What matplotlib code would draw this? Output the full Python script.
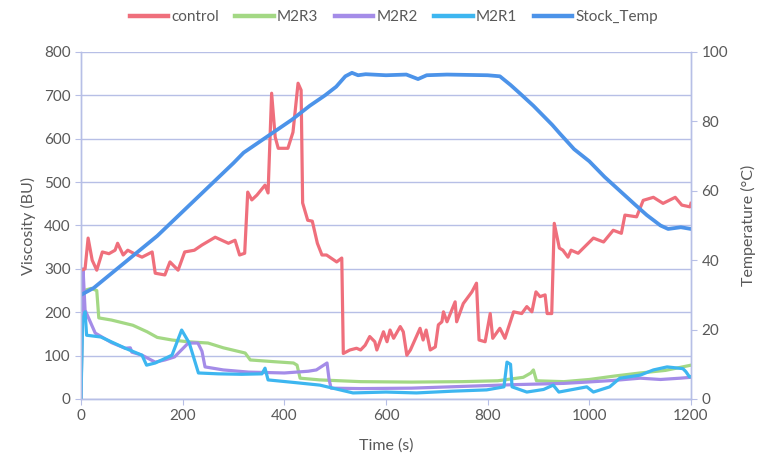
import matplotlib
matplotlib.use("Agg")
import matplotlib.pyplot as plt

# ---------------- data ----------------
control_t = [0, 8, 14, 22, 31, 42, 55, 67, 72, 83, 92, 105, 120, 140, 146, 165, 175, 191, 204, 223,
             238, 264, 290, 303, 312, 322, 328, 336, 346, 362, 368, 375, 382, 388, 407, 417, 427, 433,
             436, 446, 455, 465, 474, 483, 503, 513, 516, 529, 542, 550, 559, 568, 578, 582, 595, 602,
             608, 615, 628, 634, 641, 648, 667, 673, 679, 687, 697, 703, 710, 713, 720, 736, 739, 752,
             769, 778, 783, 795, 805, 810, 824, 834, 851, 867, 877, 887, 895, 903, 913, 917, 926,
             931, 941, 948, 958, 964, 978, 1008, 1028, 1047, 1063, 1070, 1093, 1106, 1126, 1145,
             1169, 1182, 1198, 1200]
control_v = [297, 300, 371, 320, 297, 339, 335, 343, 359, 332, 343, 335, 327, 339, 290, 286, 316, 297, 339, 343,
             355, 373, 359, 366, 332, 336, 477, 459, 470, 493, 475, 705, 604, 578, 578, 615, 728, 712,
             452, 412, 410, 359, 332, 332, 316, 325, 105, 113, 117, 113, 124, 144, 132, 113, 155, 132,
             159, 140, 167, 155, 101, 113, 163, 136, 159, 113, 120, 171, 178, 201, 178, 224, 178, 220,
             247, 267, 136, 132, 197, 140, 163, 140, 201, 197, 213, 201, 247, 236, 240, 197, 197,
             405, 348, 343, 327, 343, 336, 371, 362, 389, 382, 424, 420, 458, 465, 451,
             465, 447, 443, 451]

m2r3_t = [0, 3, 6, 20, 31, 35, 60, 102, 130, 150, 179, 210, 250, 280, 323, 333, 380, 418, 425, 431,
          470, 550, 650, 750, 820, 870, 885, 890, 896, 950, 1000, 1050, 1100, 1150, 1200]
m2r3_v = [0, 240, 250, 255, 250, 187, 182, 170, 155, 142, 136, 132, 129, 118, 106, 90, 86, 83, 78, 48,
          44, 40, 39, 40, 42, 50, 60, 67, 42, 40, 45, 53, 60, 66, 78]

m2r2_t = [0, 2, 4, 8, 28, 60, 87, 97, 100, 120, 146, 165, 184, 211, 230, 238, 244, 280, 330, 400, 447,
          463, 484, 488, 492, 550, 650, 750, 850, 950, 995, 1050, 1100, 1140, 1179, 1200]
m2r2_v = [0, 150, 300, 205, 152, 130, 117, 118, 108, 101, 85, 90, 97, 129, 129, 110, 74, 67, 62, 60, 64,
          67, 83, 45, 25, 24, 25, 29, 33, 36, 39, 43, 48, 45, 48, 50]

m2r1_t = [0, 3, 8, 11, 39, 87, 120, 129, 146, 179, 198, 213, 231, 270, 316, 356, 362, 368, 420, 470,
          535, 600, 660, 730, 798, 832, 838, 845, 848, 877, 910, 929, 940, 995, 1008, 1040, 1060,
          1100, 1126, 1153, 1184, 1190, 1197, 1200]
m2r1_v = [0, 180, 201, 147, 143, 117, 101, 78, 83, 101, 159, 129, 60, 58, 57, 58, 71, 44, 38, 32,
          14, 16, 14, 18, 21, 28, 85, 80, 28, 16, 22, 32, 16, 28, 16, 28, 48,
          55, 67, 74, 70, 63, 51, 52]

temp_t = [0, 25, 50, 100, 150, 200, 250, 300, 320, 350, 415, 450, 480, 502, 520, 533, 545, 560, 600, 640,
          663, 680, 720, 760, 800, 824, 845, 864, 890, 927, 942, 970, 1000, 1030, 1060, 1090, 1113,
          1140, 1155, 1180, 1200]
temp_v = [30, 32, 35, 41, 47, 54, 61, 68, 71, 74, 80.5, 84.5, 87.5, 90, 93, 94, 93.3, 93.6, 93.3, 93.5,
          92.2, 93.3, 93.5, 93.4, 93.3, 93, 90.5, 88, 84.5, 79, 76.5, 72, 68.5, 64, 60, 56, 53,
          50, 49, 49.5, 49]

x_ticks = [0, 200, 400, 600, 800, 1000, 1200]
left_ticks = [0, 100, 200, 300, 400, 500, 600, 700, 800]
right_ticks = [0, 20, 40, 60, 80, 100]

# ---------------- style ----------------
plt.rcParams['font.family'] = ['Lato', 'DejaVu Sans']
txt = '#595959'
grid_c = '#b7bfe6'
c_control = '#ef6f7c'
c_m2r3 = '#a3d884'
c_m2r2 = '#a48ce8'
c_m2r1 = '#3db6f0'
c_temp = '#4c93e9'
lw = 2.3

fig = plt.figure(figsize=(7.6, 4.58), dpi=100)
ax = fig.add_axes([81/760, 1-399/458, 610/760, 347/458])
ax2 = ax.twinx()

l1, = ax.plot(control_t, control_v, color=c_control, lw=lw, label='control', zorder=5)
l2, = ax.plot(m2r3_t, m2r3_v, color=c_m2r3, lw=lw, label='M2R3', zorder=3)
l3, = ax.plot(m2r2_t, m2r2_v, color=c_m2r2, lw=lw, label='M2R2', zorder=3)
l4, = ax.plot(m2r1_t, m2r1_v, color=c_m2r1, lw=lw, label='M2R1', zorder=4)
l5, = ax2.plot(temp_t, temp_v, color=c_temp, lw=lw + 0.4, label='Stock_Temp')

ax.set_xlim(0, 1200)
ax.set_ylim(0, 800)
ax2.set_ylim(0, 100)
ax.set_xticks(x_ticks)
ax.set_yticks(left_ticks)
ax2.set_yticks(right_ticks)

ax.grid(axis='y', color=grid_c, lw=1.0)
ax.set_axisbelow(True)

for a in (ax, ax2):
    a.spines['top'].set_visible(False)
    for s in ('left', 'right', 'bottom'):
        a.spines[s].set_color(grid_c)
        a.spines[s].set_linewidth(1.0)
    a.tick_params(colors=txt, labelsize=11, length=4, width=0.8)
    a.tick_params(axis='both', color=grid_c)

ax.set_xlabel('Time (s)', fontsize=11.5, color=txt, labelpad=11)
ax.set_ylabel('Viscosity (BU)', fontsize=11.5, color=txt, labelpad=6)
ax2.set_ylabel('Temperature (°C)', fontsize=11.5, color=txt, labelpad=9)

leg = fig.legend(handles=[l1, l2, l3, l4, l5], loc='center', bbox_to_anchor=(0.518, 0.963), ncol=5,
                 frameon=False, fontsize=11, handlelength=2.5, columnspacing=1.1, handletextpad=0.2,
                 labelcolor=txt)
for h in leg.get_lines():
    h.set_linewidth(3.2)

fig.savefig('out.png', dpi=100)
